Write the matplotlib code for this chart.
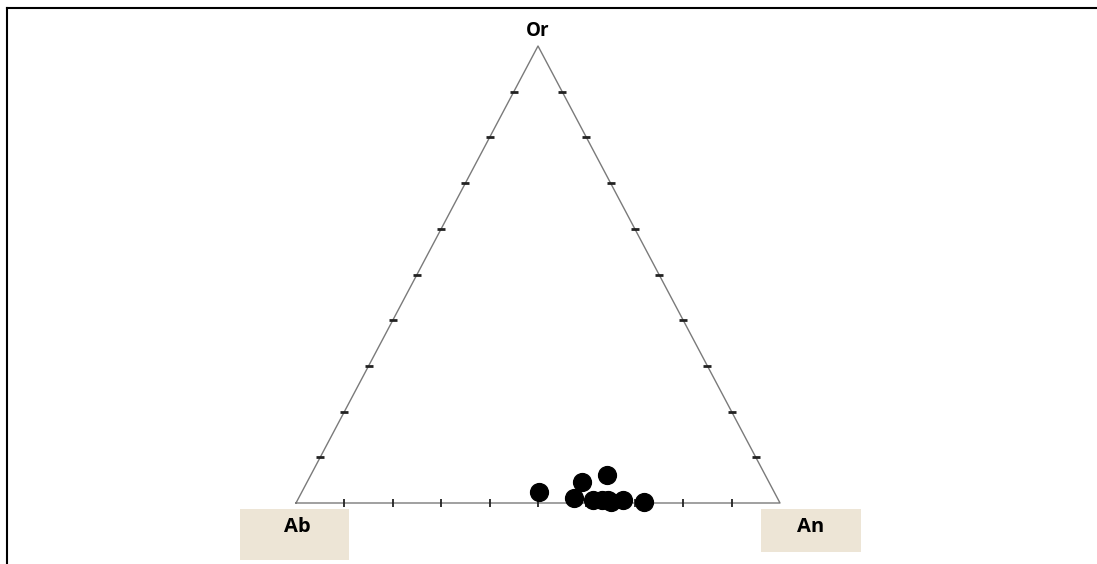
import matplotlib.pyplot as plt
from matplotlib.patches import Rectangle
import numpy as np

# feldspar compositions, mol % (Ab = 100 - An - Or)
an_pct = [49.0, 56.8, 56.8, 61.3, 61.0, 62.8, 64.1, 64.9, 67.2, 71.8]
or_pct = [2.5, 1.2, 4.5, 6.1, 0.7, 0.7, 0.7, 0.3, 0.7, 0.2]
tick_steps = np.arange(10, 100, 10)
vertex_labels = ["Ab", "An", "Or"]


def to_xy(an, orr):
    an = np.asarray(an) / 100.0
    orr = np.asarray(orr) / 100.0
    return an + orr / 2.0, orr


W, H = 1097, 564
fig = plt.figure(figsize=(W / 100, H / 100), dpi=100)
fig.patch.set_facecolor("white")

# frame lines (top and left only)
fig.add_artist(plt.Line2D([7 / W, 1.0], [1 - 8 / H, 1 - 8 / H], color="black", lw=1.5))
fig.add_artist(plt.Line2D([7 / W, 7 / W], [0.0, 1 - 8 / H], color="black", lw=1.5))

ax = fig.add_axes([296 / W, (H - 503) / H, 484 / W, 457 / H])
ax.set_xlim(0, 1)
ax.set_ylim(0, 1)
ax.axis("off")

# triangle
tx, ty = to_xy([0, 100, 0, 0], [0, 0, 100, 0])
ax.plot(tx, ty, color="#7a7a7a", lw=1.0, clip_on=False, zorder=1)

# ticks
bx, by = to_xy(tick_steps, np.zeros_like(tick_steps))
ax.plot(bx, by, ls="none", marker="|", ms=6, mew=1.3, color="#222222", clip_on=False, zorder=2)
lx, ly = to_xy(np.zeros_like(tick_steps), tick_steps)
ax.plot(lx, ly, ls="none", marker="_", ms=6, mew=2.0, color="#222222", clip_on=False, zorder=2)
rx, ry = to_xy(100 - tick_steps, tick_steps)
ax.plot(rx, ry, ls="none", marker="_", ms=6, mew=2.0, color="#222222", clip_on=False, zorder=2)

# data
px, py = to_xy(an_pct, or_pct)
ax.scatter(px, py, s=165, color="black", clip_on=False, zorder=3)

# vertex labels
box_color = "#ede5d6"
fig.add_artist(Rectangle((240 / W, 1 - 560 / H), 109 / W, 51 / H, transform=fig.transFigure,
                         facecolor=box_color, edgecolor="none"))
fig.add_artist(Rectangle((761 / W, 1 - 552 / H), 100 / W, 43 / H, transform=fig.transFigure,
                         facecolor=box_color, edgecolor="none"))
fig.text(297 / W, 1 - 527 / H, vertex_labels[0], ha="center", va="center",
         fontsize=14.5, fontweight="bold", family="Open Sans")
fig.text(811 / W, 1 - 527 / H, vertex_labels[1], ha="center", va="center",
         fontsize=14.5, fontweight="bold", family="Open Sans")
fig.text(538 / W, 1 - 31 / H, vertex_labels[2], ha="center", va="center",
         fontsize=13.5, fontweight="bold", family="Open Sans")

fig.savefig("out.png", dpi=100)
